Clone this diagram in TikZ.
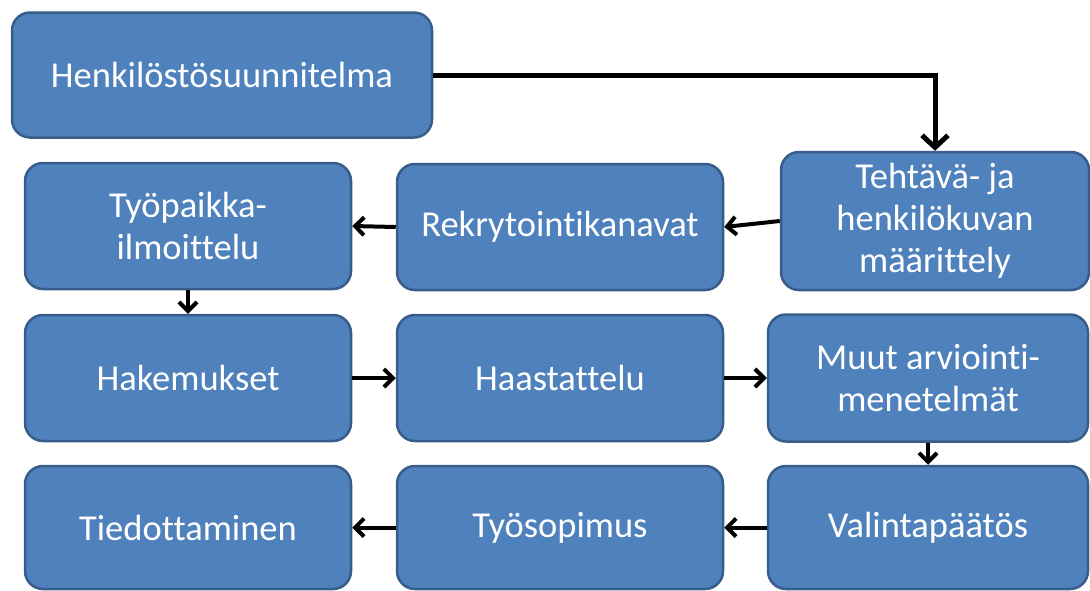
\documentclass[tikz,border=0pt]{standalone}
\usepackage{fontspec}
\setmainfont{Carlito}[Ligatures=NoCommon]
\usetikzlibrary{arrows.meta}
\definecolor{boxfill}{HTML}{4F81BD}
\definecolor{boxline}{HTML}{385D8A}
\tikzset{
  stepbox/.style={rectangle, rounded corners=18pt, fill=boxfill, draw=boxline, line width=2.5pt,
    text=white, align=center, inner sep=0pt,
    font=\fontsize{36.5}{42}\selectfont, minimum width=326pt, minimum height=126pt},
  conn/.style={draw=black, line width=4pt, -{Straight Barb[length=9pt,width=18pt,line width=4pt]}},
  bigconn/.style={draw=black, line width=5pt, -{Straight Barb[length=12pt,width=26pt,line width=5pt]}}
}
\begin{document}
\begin{tikzpicture}[x=1pt,y=-1pt]
\useasboundingbox (0,0) rectangle (1090,590);
\node[stepbox, minimum width=420pt, minimum height=125pt] (hs) at (222,75) {Henkilöstösuunnitelma};
\node[stepbox, minimum width=308pt, minimum height=138pt] (teh) at (935,221) {Tehtävä- ja\\henkilökuvan\\määrittely};
\node[stepbox] (rek) at (560,227) {Rekrytointikanavat};
\node[stepbox] (tyo) at (188,226) {Työpaikka-\\ilmoittelu};
\node[stepbox] (hak) at (188,378) {Hakemukset};
\node[stepbox] (haa) at (560,378) {Haastattelu};
\node[stepbox, minimum width=320pt, minimum height=127pt] (muu) at (928,378) {Muut arviointi-\\menetelmät};
\node[stepbox, minimum height=123pt] (tie) at (188,527.5) {Tiedottaminen};
\node[stepbox, minimum height=123pt] (sop) at (560,527.5) {Työsopimus};
\node[stepbox, minimum width=320pt, minimum height=123pt] (val) at (928,527.5) {Valintapäätös};
\draw[bigconn] (hs.east) -| (teh.north);
\draw[conn] (teh.west) -- (rek.east);
\draw[conn] (rek.west) -- (tyo.east);
\draw[conn] (tyo.south) -- (hak.north);
\draw[conn] (hak.east) -- (haa.west);
\draw[conn] (haa.east) -- (muu.west);
\draw[conn] (muu.south) -- (val.north);
\draw[conn] (val.west) -- (sop.east);
\draw[conn] (sop.west) -- (tie.east);
\end{tikzpicture}
\end{document}
